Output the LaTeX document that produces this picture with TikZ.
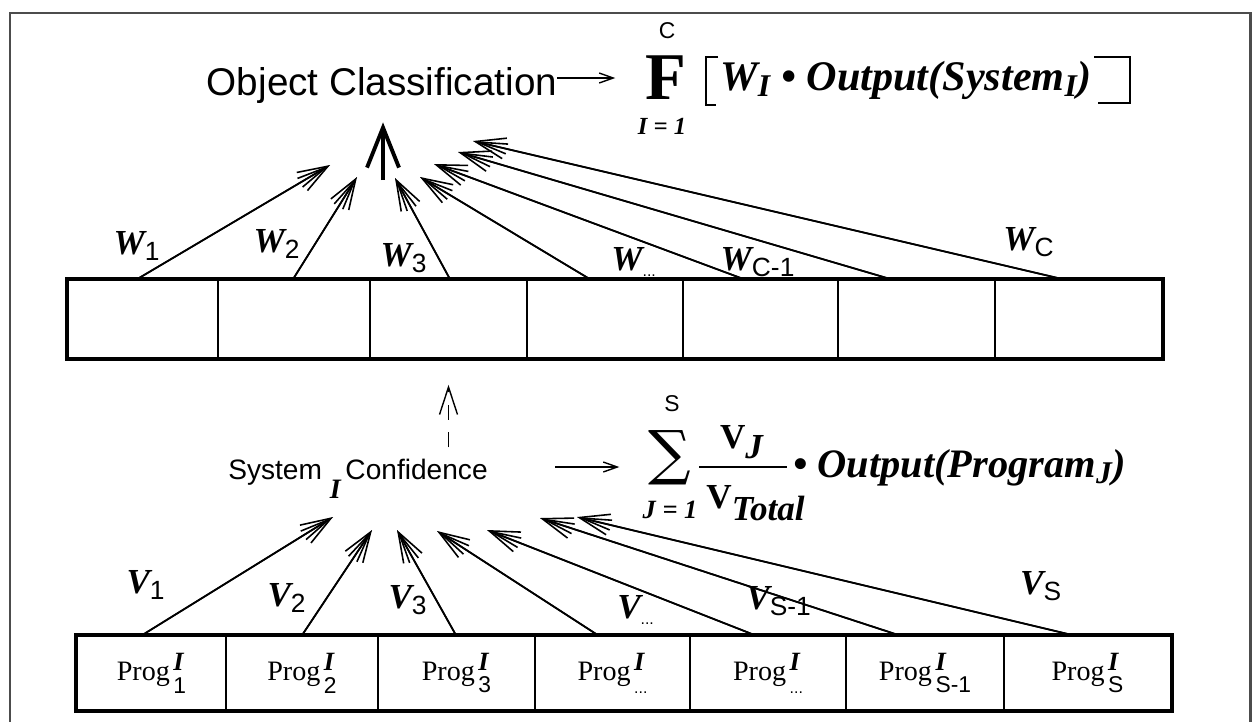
\documentclass[tikz,border=0pt]{standalone}
\usepackage{fontspec}
\setmainfont{Liberation Serif}
\setsansfont{Liberation Sans}
\newfontfamily\sigmafont{DejaVu Serif}
\usetikzlibrary{arrows.meta}

\newcommand{\wsub}[2]{$\hbox{#1}_{\hbox{\sffamily\upshape\mdseries\fontsize{15}{15}\selectfont #2}}$}
\newcommand{\progcell}[1]{Prog\kern2pt\rlap{\raisebox{6pt}{\fontsize{15}{15}\selectfont\bfseries\itshape I}}\raisebox{-7pt}{\sffamily\fontsize{13}{13}\selectfont #1}}
\newcommand{\tdots}{\fontsize{9}{9}\selectfont...}

\begin{document}
\begin{tikzpicture}[x=0.02cm,y=-0.02cm,
  cell/.style={draw,line width=0.9pt,inner sep=0pt},
  lab/.style={inner sep=0pt,font=\fontsize{20}{20}\selectfont\bfseries\itshape},
  fan/.style={line width=1pt,-{Straight Barb[length=0.6cm,width=0.42cm,line width=0.9pt]},
    postaction={draw,line width=0.9pt,-{Straight Barb[length=0.6cm,width=0.2cm,line width=0.9pt]}}},
  bigup/.style={line width=2.8pt,-{Straight Barb[length=0.8cm,width=0.64cm,line width=2.2pt]}},
  tinyarr/.style={line width=0.8pt,-{Straight Barb[length=0.28cm,width=0.2cm]}},
  dasharr/.style={line width=0.8pt,dash pattern=on 0.3cm off 0.25cm,-{Straight Barb[length=0.55cm,width=0.36cm]}}]
\useasboundingbox (0,0) rectangle (1256,721);
\draw[line width=1.7pt,black!70] (10,740) -- (10,13) -- (1250,13) -- (1250,740);

% top: classification
\node[anchor=base,inner sep=0pt,font=\sffamily\fontsize{22}{22}\selectfont] (objcls) at (382,95) {Object Classification};
\node[font=\fontsize{38}{38}\selectfont\bfseries,inner sep=0pt] (bigF) at (666,78) {F};
\node[font=\sffamily\fontsize{13}{13}\selectfont,inner sep=0pt] (fC) at (667,31) {C};
\node[font=\fontsize{14}{14}\selectfont\bfseries\itshape,inner sep=0pt] (fI) at (662,126) {I = 1};
\node[font=\fontsize{24}{24}\selectfont\bfseries\itshape,inner sep=0pt,anchor=base west] (outS) at (720,90)
  {$\hbox{W}_{\hbox{\fontsize{18}{18}\selectfont I}}$ \textbullet\ Output(System$_{\hbox{\fontsize{18}{18}\selectfont I}}$)};
\draw[line width=1.6pt] (718,57) -- (706,57) -- (706,105) -- (716,105);
\draw[line width=1.6pt] (1094,57) -- (1130,57) -- (1130,103) -- (1098,103);
\draw[tinyarr,shorten >=0.6cm] ([yshift=0.34cm]objcls.base east) -- ([yshift=0.34cm]objcls.base east -| bigF.west);

% weights row
\foreach \i/\xa/\xb in {1/68/218,2/218/370,3/370/527,4/527/683,5/683/838,6/838/995,7/995/1162}
  \node[cell,minimum width={(\xb-\xa)*0.02cm},minimum height=1.56cm] (w\i) at ({(\xa+\xb)/2},319) {};
\draw[line width=2.4pt] (w1.north west) rectangle (w7.south east);

\coordinate (cbot) at (383,180);
\draw[bigup,shorten >=0.38cm] (cbot) -- (cbot |- objcls.south);
\foreach \i/\xs/\tx/\ty in {1/137/330/165,2/293/357/177,3/450/395/178,4/590/420/177,5/744/434/164,6/891/458/152,7/1063/473/141}
{
  \coordinate (tw\i) at (\tx,\ty);
  \draw[fan] (\xs,0 |- w\i.north) -- (tw\i);
}
\node[lab] (lw1) at (137,246) {\wsub{W}{1}};
\node[lab] (lw2) at (277,244) {\wsub{W}{2}};
\node[lab] (lw3) at (404,258) {\wsub{W}{3}};
\node[lab] (lw4) at (634,262) {\wsub{W}{\tdots}};
\node[lab] (lw5) at (758,262) {\wsub{W}{C-1}};
\node[lab] (lw7) at (1029,242) {\wsub{W}{C}};

% system confidence
\node[anchor=base,inner sep=0pt,font=\sffamily\fontsize{16}{16}\selectfont] (syscf) at (358,479)
  {System \raisebox{-1.3ex}{\rmfamily\bfseries\itshape I}\,Confidence};
\draw[dasharr,shorten <=0.22cm,shorten >=0.52cm] (syscf.north -| w3.south) -- (w3.south);

\node[font=\sffamily\fontsize{13}{13}\selectfont,inner sep=0pt] (sS) at (672,404) {S};
\node[font=\sigmafont\fontsize{34}{34}\selectfont,inner sep=0pt] (sumsig) at (670,458) {∑};
\node[font=\fontsize{15}{15}\selectfont\bfseries\itshape,inner sep=0pt] (sJ) at (670,510) {J = 1};
\node[font=\fontsize{20}{20}\selectfont\bfseries,inner sep=0pt] (vJ) at (742,442) {$\hbox{V}_{\hbox{\itshape J}}$};
\node[font=\fontsize{20}{20}\selectfont\bfseries,inner sep=0pt] (vT) at (756,503) {$\hbox{V}_{\hbox{\itshape Total}}$};
\draw[line width=0.7pt] (699,467) -- (787,467);
\node[font=\fontsize{23}{23}\selectfont\bfseries\itshape,inner sep=0pt,anchor=base west] (outP) at (793,477)
  {\textbullet\ Output(Program$_{\hbox{\fontsize{18}{18}\selectfont J}}$)};
\draw[tinyarr,shorten <=1.34cm,shorten >=0.58cm] ([yshift=0.24cm]syscf.base east) -- ([yshift=0.24cm]syscf.base east -| sumsig.west);

% programs row
\foreach \i/\xa/\xb/\s in {1/77/226/1,2/226/378/2,3/378/535/3,4/535/690/\tdots,5/690/846/\tdots,6/846/1004/S-1,7/1004/1171/S}
  \node[cell,minimum width={(\xb-\xa)*0.02cm},minimum height=1.48cm,font=\fontsize{16}{16}\selectfont] (p\i) at ({(\xa+\xb)/2},673) {\progcell{\s}};
\draw[line width=2.4pt] (p1.north west) rectangle (p7.south east);

\foreach \i/\xs/\tx/\ty in {1/142/333/517,2/302/372/530,3/456/397/530,4/598/437/531,5/755/487/530,6/899/540/518,7/1073/577/517}
{
  \coordinate (tv\i) at (\tx,\ty);
  \draw[fan] (\xs,0 |- p\i.north) -- (tv\i);
}
\node[lab] (lv1) at (146,585) {\wsub{V}{1}};
\node[lab] (lv2) at (287,598) {\wsub{V}{2}};
\node[lab] (lv3) at (408,600) {\wsub{V}{3}};
\node[lab] (lv4) at (636,610) {\wsub{V}{\tdots}};
\node[lab] (lv5) at (779,601) {\wsub{V}{S-1}};
\node[lab] (lv7) at (1041,586) {\wsub{V}{S}};
\end{tikzpicture}
\end{document}
